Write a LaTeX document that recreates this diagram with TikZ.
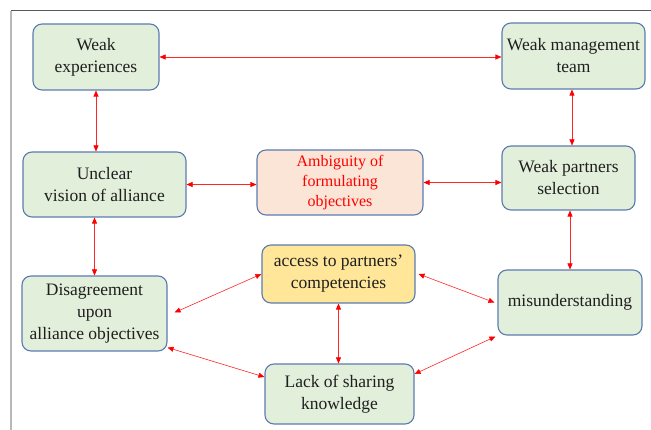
\documentclass[tikz,border=0pt]{standalone}
\usepackage{fontspec}
\setmainfont{Liberation Serif}
\usetikzlibrary{arrows.meta}
\definecolor{boxgreen}{HTML}{E2EFDA}
\definecolor{boxpeach}{HTML}{FBE5D6}
\definecolor{boxgold}{HTML}{FFE699}
\definecolor{boxedge}{HTML}{5B7BB0}
\begin{document}
\begin{tikzpicture}[x=1pt,y=-1pt,
  box/.style={draw=boxedge, line width=1.1pt, rounded corners=9pt, fill=boxgreen,
    align=center, inner sep=0pt, font=\fontsize{17.5}{22}\selectfont, text=black!88},
  link/.style={red!85, line width=0.6pt,
    {Triangle[length=6pt,width=5pt,fill=red,color=red]}-{Triangle[length=6pt,width=5pt,fill=red,color=red]}}]
\useasboundingbox (0,0) rectangle (651,430);
% frame lines
\draw[black!65, line width=1pt] (11,11) -- (651,11);
\draw[black!28, line width=1.5pt] (11,11) -- (11,430);

% boxes
\node[box, minimum width=126, minimum height=66] (we) at (96,57) {Weak\\experiences};
\node[box, minimum width=143, minimum height=66] (wm) at (573.5,56) {Weak management\\team};
\node[box, minimum width=163, minimum height=65] (uv) at (104.5,184.5) {Unclear\\vision of alliance};
\node[box, fill=boxpeach, text=red, font=\fontsize{16}{20}\selectfont,
      minimum width=166, minimum height=65] (am) at (340,182.5) {Ambiguity of\\formulating\\objectives};
\node[box, minimum width=133, minimum height=64] (wp) at (568.5,178) {Weak partners\\selection};
\node[box, fill=boxgold, minimum width=153, minimum height=58] (ac) at (338.5,274) {access to partners'\\competencies};
\node[box, minimum width=144, minimum height=65] (mi) at (570,302.5) {misunderstanding};
\node[box, minimum width=145, minimum height=75] (di) at (94.5,313.5) {Disagreement\\upon\\alliance objectives};
\node[box, minimum width=149, minimum height=60] (lk) at (339.5,394) {Lack of sharing\\knowledge};

% connectors
\draw[link] (we.east) -- (we.east-|wm.west);
\draw[link] (we.south) -- (we.south|-uv.north);
\draw[link] (uv.east) -- (uv.east-|am.west);
\draw[link] (am.east) -- (am.east-|wp.west);
\draw[link] ([xshift=-1.5pt]wm.south) -- ([xshift=-1.5pt]wm.south|-wp.north);
\draw[link] (di.north) -- (di.north|-uv.south);
\draw[link] (mi.north) -- (mi.north|-wp.south);
\draw[link] ([xshift=7pt,yshift=1pt]di.east) -- (ac.west);
\draw[link] ([yshift=4pt]di.south east) -- ([yshift=17pt]lk.west);
\draw[link] (ac.south) -- (ac.south|-lk.north);
\draw[link] ([xshift=3pt]ac.east) -- ([xshift=-3pt]mi.west);
\draw[link] ([yshift=20pt]lk.east) -- ([xshift=-2pt,yshift=-1pt]mi.south west);
\end{tikzpicture}
\end{document}
